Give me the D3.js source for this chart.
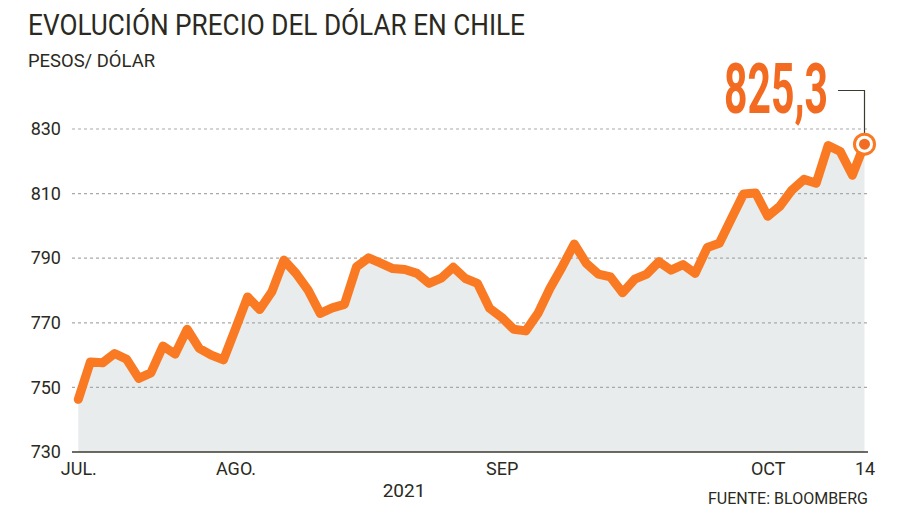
<!DOCTYPE html>
<html>
<head>
<meta charset="utf-8">
<script src="https://cdn.jsdelivr.net/npm/d3@7"></script>
<style>
  body { margin: 0; background: #fff; }
  text { font-family: Roboto, "Noto Sans", sans-serif; fill: #2b2a22; }
</style>
</head>
<body>
<svg id="chart" width="900" height="515"></svg>
<script>
// dollar price in pesos, one value per session, Jul 1 to Oct 14 2021
var values = [746.3, 757.9, 757.6, 760.5, 758.7, 752.8, 754.5, 762.8, 760.3, 768.0,
              762.1, 760.0, 758.5, 768.2, 778.0, 774.1, 779.6, 789.4, 785.3, 780.1,
              772.9, 774.6, 775.7, 787.3, 790.1, 788.5, 786.8, 786.5, 785.3, 782.2,
              783.8, 787.2, 783.7, 782.2, 774.5, 771.7, 768.0, 767.5, 772.9, 780.7,
              787.3, 794.4, 788.4, 785.1, 784.2, 779.3, 783.5, 785.1, 788.9, 786.3,
              788.0, 785.3, 793.3, 794.6, 802.3, 809.9, 810.2, 803.0, 806.1, 811.1,
              814.4, 813.2, 824.9, 823.0, 815.7, 825.3];
var yTicks = [730, 750, 770, 790, 810, 830];
var xTickIdx = [0, 13, 35, 57, 65];
var xTickLabels = ["JUL.", "AGO.", "SEP", "OCT", "14"];
var lastLabel = "825,3";

var svg = d3.select("#chart");

var x = d3.scaleLinear().domain([0, values.length - 1]).range([78.3, 864.5]);
var y = d3.scaleLinear().domain([730, 830]).range([452, 129]);

// title
svg.append("text")
  .attr("x", 28).attr("y", 35)
  .attr("font-size", 29.5)
  .attr("textLength", 497).attr("lengthAdjust", "spacingAndGlyphs")
  .text("EVOLUCIÓN PRECIO DEL DÓLAR EN CHILE");
svg.append("text")
  .attr("x", 28).attr("y", 67)
  .attr("font-size", 19)
  .attr("textLength", 127).attr("lengthAdjust", "spacingAndGlyphs")
  .text("PESOS/ DÓLAR");

// area under line
var area = d3.area()
  .x(function(d, i) { return x(i); })
  .y0(y(730))
  .y1(function(d) { return y(d); });
svg.append("path")
  .datum(values)
  .attr("d", area)
  .attr("fill", "#e9ecec");

// gridlines
svg.selectAll(".grid")
  .data(yTicks.slice(1))
  .enter().append("line")
  .attr("class", "grid")
  .attr("x1", 72).attr("x2", 868)
  .attr("y1", function(d) { return y(d); })
  .attr("y2", function(d) { return y(d); })
  .attr("stroke", "#a9a9a9")
  .attr("stroke-width", 1.2)
  .attr("stroke-dasharray", "3,3");

// baseline
svg.append("line")
  .attr("x1", 72).attr("x2", 868)
  .attr("y1", y(730)).attr("y2", y(730))
  .attr("stroke", "#3b3a30")
  .attr("stroke-width", 1.6);

// y axis labels
var yAxis = svg.append("g")
  .attr("transform", "translate(72,0)")
  .call(d3.axisLeft(y).tickValues(yTicks).tickSize(0).tickPadding(11));
yAxis.select(".domain").remove();
yAxis.selectAll("text")
  .attr("font-size", 18)
  .attr("font-family", "Roboto, sans-serif")
  .attr("fill", "#2b2a22");

// x axis labels
var xAxis = svg.append("g")
  .attr("transform", "translate(0," + y(730) + ")")
  .call(d3.axisBottom(x).tickValues(xTickIdx)
    .tickFormat(function(d, i) { return xTickLabels[i]; })
    .tickSize(0).tickPadding(10));
xAxis.select(".domain").remove();
xAxis.selectAll("text")
  .attr("font-size", 18)
  .attr("font-family", "Roboto, sans-serif")
  .attr("fill", "#2b2a22");

svg.append("text")
  .attr("x", 404).attr("y", 497)
  .attr("text-anchor", "middle")
  .attr("font-size", 19)
  .text("2021");
svg.append("text")
  .attr("x", 868).attr("y", 504)
  .attr("text-anchor", "end")
  .attr("font-size", 16)
  .attr("textLength", 160).attr("lengthAdjust", "spacingAndGlyphs")
  .text("FUENTE: BLOOMBERG");

// the line
var line = d3.line()
  .x(function(d, i) { return x(i); })
  .y(function(d) { return y(d); });
svg.append("path")
  .datum(values)
  .attr("d", line)
  .attr("fill", "none")
  .attr("stroke", "#f97a22")
  .attr("stroke-width", 9)
  .attr("stroke-linejoin", "round")
  .attr("stroke-linecap", "round");

// last value marker
var lx = x(values.length - 1), ly = y(values[values.length - 1]);
svg.append("polyline")
  .attr("points", "838,90.5 " + lx + ",90.5 " + lx + "," + (ly - 11))
  .attr("fill", "none")
  .attr("stroke", "#3b3a30")
  .attr("stroke-width", 1.2);
svg.append("circle").attr("cx", lx).attr("cy", ly).attr("r", 11.5).attr("fill", "#f97a22");
svg.append("circle").attr("cx", lx).attr("cy", ly).attr("r", 8.5).attr("fill", "#fff");
svg.append("circle").attr("cx", lx).attr("cy", ly).attr("r", 5.5).attr("fill", "#f26d21");

// big label, squeezed horizontally to the narrow look of the original
var big = svg.append("text")
  .attr("font-size", 70)
  .attr("font-weight", "bold")
  .attr("font-family", "'Liberation Sans Narrow', Roboto, sans-serif")
  .style("fill", "#f26b21")
  .text(lastLabel);
var w = big.node().getComputedTextLength();
big.attr("transform", "translate(724,113) scale(" + (104 / w) + ",1)");
</script>
</body>
</html>
